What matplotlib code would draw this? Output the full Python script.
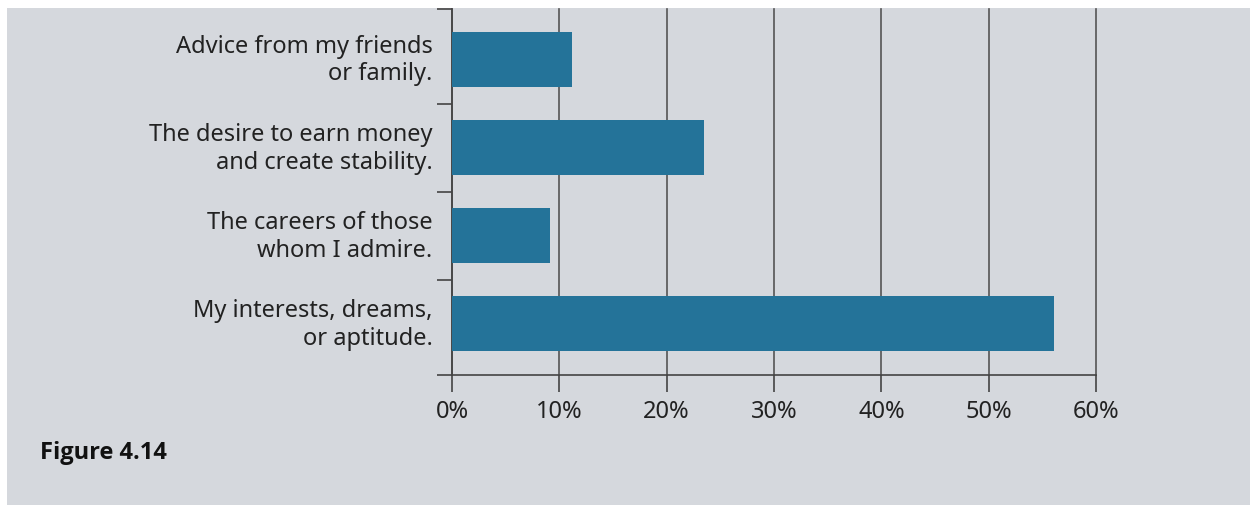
import matplotlib.pyplot as plt
from matplotlib.patches import Rectangle

categories = [
    "Advice from my friends\nor family.",
    "The desire to earn money\nand create stability.",
    "The careers of those\nwhom I admire.",
    "My interests, dreams,\nor aptitude.",
]
percent = [11.2, 23.5, 9.1, 56.1]
x_ticks = [0, 10, 20, 30, 40, 50, 60]

plt.rcParams["font.family"] = ["Noto Sans", "DejaVu Sans"]

fig = plt.figure(figsize=(12.5, 5.06), dpi=100)
fig.patch.set_facecolor("white")
fig.patches.append(Rectangle((7 / 1250, 0), 1, 1 - 9 / 506, transform=fig.transFigure,
                             facecolor="#d5d8dd", edgecolor="none", zorder=-10))

ax = fig.add_axes([452 / 1250, 1 - 376 / 506, 644 / 1250, 366 / 506])
ax.set_facecolor("none")

y = list(range(len(categories)))
ax.barh(y, percent, height=0.625, color="#247399", zorder=3)

ax.set_xlim(0, 60)
ax.set_ylim(3.58, -0.575)
ax.set_xticks(x_ticks)
ax.set_xticklabels([f"{t}%" for t in x_ticks], fontsize=17, color="#222222")
ax.grid(axis="x", color="#555555", linewidth=1.2, zorder=1)
for gl in ax.get_xgridlines():
    gl.set_clip_on(False)

# category labels between boundary ticks
ax.set_yticks([-0.575, 0.5, 1.5, 2.5, 3.58])
ax.set_yticklabels([])
ax.tick_params(axis="y", length=11, width=1.2, color="#444444")
ax.tick_params(axis="x", length=12, width=1.2, color="#444444", pad=5)
for yi, lab in zip(y, categories):
    ax.text(-0.03, yi, lab, transform=ax.get_yaxis_transform(), ha="right", va="center",
            fontsize=17, color="#222222", linespacing=1.2)

for side in ["top", "right"]:
    ax.spines[side].set_visible(False)
for side in ["left", "bottom"]:
    ax.spines[side].set_color("#444444")
    ax.spines[side].set_linewidth(1.2)

fig.text(40 / 1250, 1 - 453 / 506, "Figure 4.14", fontsize=17, fontweight="bold",
         family=["Open Sans", "DejaVu Sans"], ha="left", va="center", color="#111111")

fig.savefig("out.png", dpi=100)
